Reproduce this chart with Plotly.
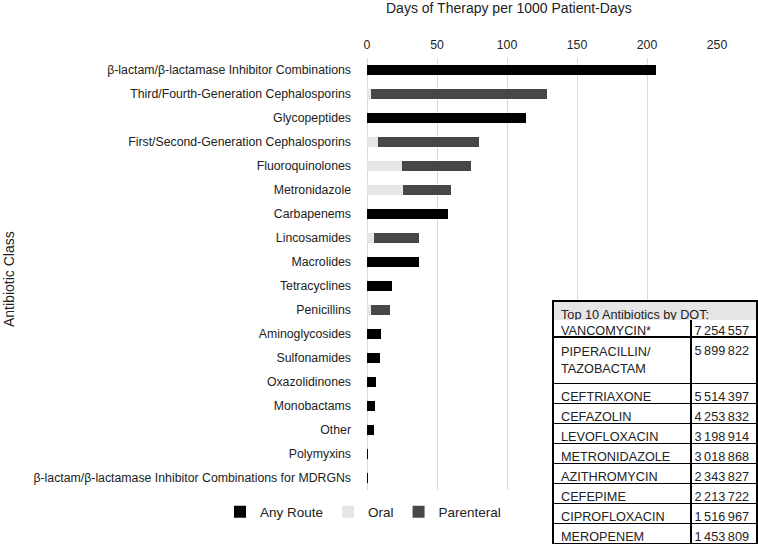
import plotly.graph_objects as go

# 抗菌薬クラス (上から順)
classes = [
    "β-lactam/β-lactamase Inhibitor Combinations",
    "Third/Fourth-Generation Cephalosporins",
    "Glycopeptides",
    "First/Second-Generation Cephalosporins",
    "Fluoroquinolones",
    "Metronidazole",
    "Carbapenems",
    "Lincosamides",
    "Macrolides",
    "Tetracyclines",
    "Penicillins",
    "Aminoglycosides",
    "Sulfonamides",
    "Oxazolidinones",
    "Monobactams",
    "Other",
    "Polymyxins",
    "β-lactam/β-lactamase Inhibitor Combinations for MDRGNs",
]

# DOT per 1000 patient-days
any_route = [206.5, None, 113.4, None, None, None, 57.9, None, 37.4, 18.1,
             None, 9.8, 9.1, 6.4, 5.9, 4.8, 0.5, 0.4]
oral = [None, 2.6, None, 7.6, 24.8, 25.7, None, 4.8, None, None,
        2.6, None, None, None, None, None, None, None]
parenteral = [None, 125.8, None, 72.6, 49.7, 34.1, None, 32.6, None, None,
              13.6, None, None, None, None, None, None, None]

# 表: Top 10 Antibiotics by DOT
table_title = "Top 10 Antibiotics by DOT:"
top10_names = ["VANCOMYCIN*", "PIPERACILLIN/<br>TAZOBACTAM", "CEFTRIAXONE", "CEFAZOLIN",
               "LEVOFLOXACIN", "METRONIDAZOLE", "AZITHROMYCIN", "CEFEPIME",
               "CIPROFLOXACIN", "MEROPENEM"]
top10_dot = [7254557, 5899822, 5514397, 4253832, 3198914, 3018868,
             2343827, 2213722, 1516967, 1453809]

W, H = 758, 547
FONT = "Liberation Sans, Arial, sans-serif"
TXT = "#222222"
TBL_TOP = 301

fig = go.Figure()
fig.add_trace(go.Bar(y=classes, x=any_route, orientation="h", name="Any Route",
                     marker=dict(color="#000000", line=dict(width=0)), width=0.42))
fig.add_trace(go.Bar(y=classes, x=oral, orientation="h", name="Oral",
                     marker=dict(color="#e6e6e6", line=dict(width=0)), width=0.42))
fig.add_trace(go.Bar(y=classes, x=parenteral, orientation="h", name="Parenteral",
                     marker=dict(color="#474747", line=dict(width=0)), width=0.42))

# 表 本体 (空ヘッダー行はタイトル表で隠す)
fig.add_trace(go.Table(
    domain=dict(x=[553 / W, 757 / W], y=[0, 1 - TBL_TOP / H]),
    columnwidth=[138, 66],
    header=dict(values=[], height=20, line=dict(width=0), fill_color="white"),
    cells=dict(values=[top10_names,
                       [f"{v:,}".replace(",", "\u2009") for v in top10_dot]],
               fill_color="white", line=dict(color="black", width=1.5),
               align=["left", "right"], height=20,
               font=dict(family=FONT, size=12.7, color=TXT)),
))
# 表 タイトル行
fig.add_trace(go.Table(
    domain=dict(x=[553 / W, 757 / W], y=[1 - (TBL_TOP + 20) / H, 1 - TBL_TOP / H]),
    header=dict(values=[table_title], fill_color="#e7e6e6",
                line=dict(color="black", width=1.5), align="left", height=20,
                font=dict(family=FONT, size=12.7, color=TXT)),
    cells=dict(values=[[]], height=0, line=dict(width=0)),
))

fig.update_layout(
    template="none",
    width=W, height=H,
    margin=dict(l=0, r=0, t=0, b=0),
    paper_bgcolor="white", plot_bgcolor="white",
    barmode="stack",
    font=dict(family=FONT, size=12, color=TXT),
    legend=dict(orientation="h", x=363 / W, xanchor="center", y=1 - 512 / H, yanchor="middle",
                font=dict(size=13.5), traceorder="normal", itemwidth=30),
    xaxis=dict(domain=[367 / W, 717 / W], range=[0, 250], dtick=50, side="top",
               showgrid=True, gridcolor="#d9d9d9", gridwidth=1, zeroline=True,
               zerolinecolor="#d9d9d9", showline=False, ticks="", automargin=False,
               tickfont=dict(size=12.3), ticklabelstandoff=6),
    yaxis=dict(domain=[1 - 490 / H, 1 - 58 / H], autorange="reversed", showgrid=False,
               zeroline=False, showline=False, ticks="", automargin=False,
               tickfont=dict(size=12.3), ticklabelstandoff=15),
    annotations=[
        dict(text="Days of Therapy per 1000 Patient-Days", x=509 / W, y=1 - 8 / H,
             xref="paper", yref="paper", showarrow=False, xanchor="center", yanchor="middle",
             font=dict(size=14)),
        dict(text="Antibiotic Class", x=9 / W, y=1 - 279 / H, textangle=-90,
             xref="paper", yref="paper", showarrow=False, xanchor="center", yanchor="middle",
             font=dict(size=14)),
    ],
)

# ページ余白をなくす
fig.write_html("out.html", config={"displayModeBar": False},
               post_script="document.body.style.margin='0';")
